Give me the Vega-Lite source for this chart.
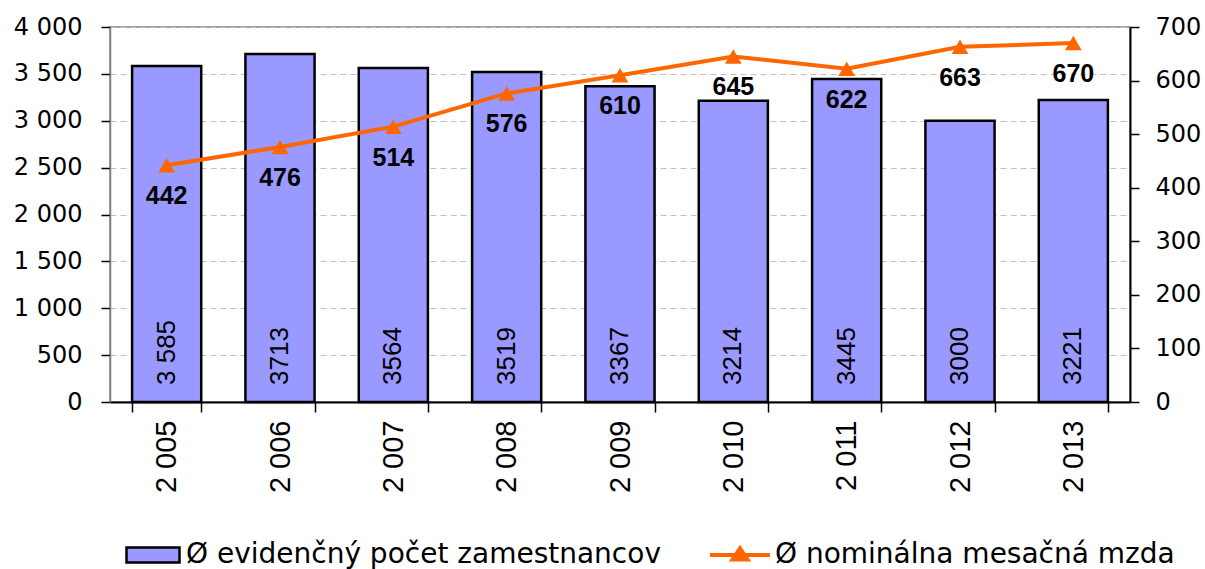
{
  "$schema": "https://vega.github.io/schema/vega-lite/v6.json",
  "width": 1020,
  "height": 375,
  "autosize": {"type": "none"},
  "padding": {"left": 110, "top": 27, "right": 75, "bottom": 167},
  "background": "white",
  "config": {"view": {"stroke": "#808080", "strokeWidth": 1.5}, "font": "Liberation Sans"},
  "data": {"values": [
    {"rok": "2 005", "pocet": 3585, "pocet_txt": "3 585", "mzda": 442},
    {"rok": "2 006", "pocet": 3713, "pocet_txt": "3713", "mzda": 476},
    {"rok": "2 007", "pocet": 3564, "pocet_txt": "3564", "mzda": 514},
    {"rok": "2 008", "pocet": 3519, "pocet_txt": "3519", "mzda": 576},
    {"rok": "2 009", "pocet": 3367, "pocet_txt": "3367", "mzda": 610},
    {"rok": "2 010", "pocet": 3214, "pocet_txt": "3214", "mzda": 645},
    {"rok": "2 011", "pocet": 3445, "pocet_txt": "3445", "mzda": 622},
    {"rok": "2 012", "pocet": 3000, "pocet_txt": "3000", "mzda": 663},
    {"rok": "2 013", "pocet": 3221, "pocet_txt": "3221", "mzda": 670}
  ]},
  "encoding": {
    "x": {
      "field": "rok", "type": "nominal", "sort": null,
      "scale": {"paddingInner": 0.39, "paddingOuter": 0.195},
      "axis": {
        "orient": "bottom", "labelAngle": -90, "labelFont": "Liberation Sans", "labelFontSize": 29,
        "labelColor": "black", "tickBand": "extent", "tickSize": 10, "tickColor": "black", "tickWidth": 1.5,
        "labelPadding": 8, "domainColor": "black", "domainWidth": 2, "title": null
      }
    }
  },
  "layer": [
    {
      "layer": [
        {
          "mark": {"type": "bar", "stroke": "black", "strokeWidth": 2.5},
          "encoding": {
            "y": {
              "field": "pocet", "type": "quantitative", "scale": {"domain": [0, 4000]},
              "axis": {
                "orient": "left", "values": [0, 500, 1000, 1500, 2000, 2500, 3000, 3500, 4000],
                "labelExpr": "replace(format(datum.value, ','), ',', ' ')",
                "labelFont": "DejaVu Sans", "labelFontSize": 24, "labelColor": "black",
                "domainColor": "#808080", "domainWidth": 1.5, "tickColor": "black", "tickWidth": 1.5,
                "tickSize": 9, "labelPadding": 19, "grid": true, "gridColor": "#C0C0C0", "gridDash": [6, 4],
                "gridWidth": 1, "title": null
              }
            },
            "fill": {
              "datum": "Ø evidenčný počet zamestnancov",
              "scale": {"range": ["#9999FF"]},
              "legend": {
                "orient": "none", "legendX": 15, "legendY": 500, "title": null, "padding": 0,
                "labelFont": "DejaVu Sans", "labelFontSize": 28, "labelColor": "black", "labelOffset": 5,
                "labelLimit": 800,
                "symbolType": "M-1,-0.283H1V0.283H-1Z", "symbolSize": 2809,
                "symbolStrokeColor": "black", "symbolStrokeWidth": 2.5
              }
            }
          }
        },
        {
          "mark": {"type": "text", "angle": 270, "align": "left", "baseline": "middle", "dx": 17, "fontSize": 26, "font": "Liberation Sans", "color": "black"},
          "encoding": {
            "y": {"datum": 0, "type": "quantitative", "title": null},
            "text": {"field": "pocet_txt"}
          }
        }
      ]
    },
    {
      "layer": [
        {
          "mark": {"type": "line", "strokeWidth": 4},
          "encoding": {
            "y": {
              "field": "mzda", "type": "quantitative", "scale": {"domain": [0, 700]},
              "axis": {
                "orient": "right", "values": [0, 100, 200, 300, 400, 500, 600, 700], "grid": false,
                "labelFont": "DejaVu Sans", "labelFontSize": 24, "labelColor": "black",
                "domainColor": "black", "domainWidth": 2, "tickColor": "black", "tickWidth": 1.5,
                "tickSize": 9, "labelPadding": 16, "title": null
              }
            },
            "stroke": {
              "datum": "Ø nominálna mesačná mzda",
              "scale": {"range": ["#FF6600"]},
              "legend": {
                "orient": "none", "legendX": 598, "legendY": 496, "title": null, "padding": 0,
                "labelFont": "DejaVu Sans", "labelFontSize": 28, "labelColor": "black", "labelOffset": 3,
                "labelLimit": 800,
                "symbolType": "M-1,0H1M-0.25,0.15L0,-0.22L0.25,0.15Z", "symbolSize": 3600,
                "symbolStrokeWidth": 4,
                "encode": {"symbols": {"update": {"fill": {"value": "#FF6600"}, "stroke": {"value": "#FF6600"}}}}
              }
            }
          }
        },
        {
          "mark": {"type": "point", "shape": "triangle-up", "filled": true, "color": "#FF6600", "size": 280, "opacity": 1},
          "encoding": {"y": {"field": "mzda", "type": "quantitative"}}
        },
        {
          "mark": {"type": "text", "dy": 31, "fontSize": 25, "fontWeight": "bold", "font": "Liberation Sans", "color": "black"},
          "encoding": {
            "y": {"field": "mzda", "type": "quantitative"},
            "text": {"field": "mzda"}
          }
        }
      ]
    }
  ],
  "resolve": {"scale": {"y": "independent"}}
}
